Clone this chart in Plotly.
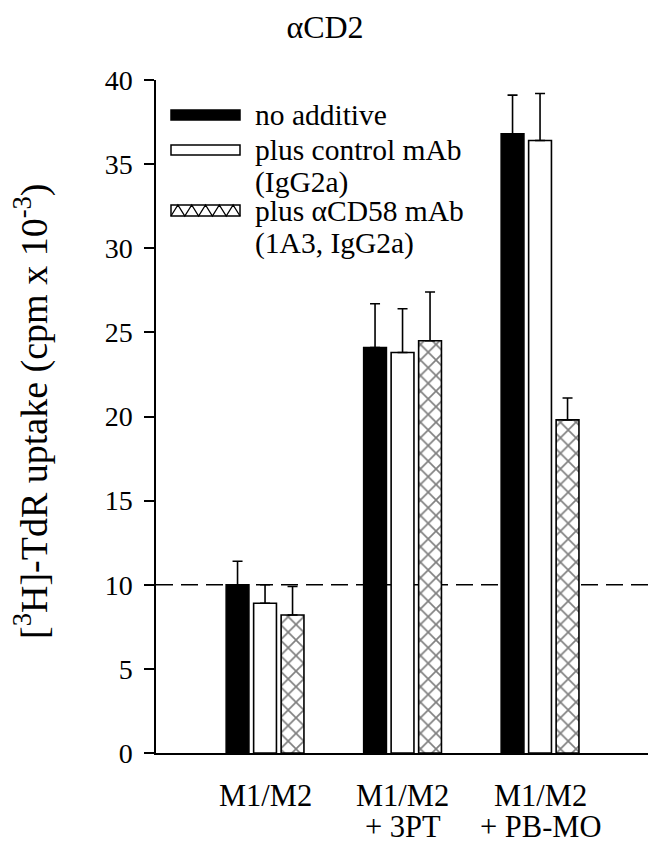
import plotly.graph_objects as go

# ---------------- data ----------------
categories = ["M1/M2", "M1/M2<br>+ 3PT", "M1/M2<br>+ PB-MO"]
series_names = ["no additive", "plus control mAb<br>(IgG2a)", "plus \u03b1CD58 mAb<br>(1A3, IgG2a)"]

no_additive = [10.0, 24.1, 36.8]
no_additive_err = [1.4, 2.6, 2.3]

control_mab = [8.9, 23.8, 36.4]
control_mab_err = [1.1, 2.6, 2.8]

cd58_mab = [8.2, 24.5, 19.8]
cd58_mab_err = [1.7, 2.9, 1.3]

baseline_value = 10
y_ticks = [0, 5, 10, 15, 20, 25, 30, 35, 40]

FONT = "Liberation Serif, Times New Roman, serif"

# The page body has an 8px default margin: figure is offset by 8px.
OFF = 8
FIG_W, FIG_H = 656 - OFF, 853 - 2 * OFF

# plot area in page pixels
L, R, T, B = 156, 651, 80, 753
W, H = R - L, B - T


def px(x):
    return (x - L) / W


def py(y):
    return (B - y) / H


xpos = list(range(len(categories)))

fig = go.Figure()
err_style = dict(type="data", symmetric=False, color="black", thickness=1.6, width=5)

fig.add_trace(go.Bar(
    x=xpos, y=no_additive, name=series_names[0],
    marker=dict(color="black", line=dict(color="black", width=1.5)),
    error_y=dict(array=no_additive_err, arrayminus=[0] * len(xpos), **err_style),
))
fig.add_trace(go.Bar(
    x=xpos, y=control_mab, name=series_names[1],
    marker=dict(color="white", line=dict(color="black", width=1.6)),
    error_y=dict(array=control_mab_err, arrayminus=[0] * len(xpos), **err_style),
))
fig.add_trace(go.Bar(
    x=xpos, y=cd58_mab, name=series_names[2],
    marker=dict(color="white", line=dict(color="black", width=1.6),
                pattern=dict(shape="x", fgcolor="black", bgcolor="white",
                             size=11, solidity=0.28, fillmode="overlay")),
    error_y=dict(array=cd58_mab_err, arrayminus=[0] * len(xpos), **err_style),
))

shapes = []
# dashed reference line at 10
shapes.append(dict(type="line", xref="paper", x0=0, x1=1, yref="y",
                   y0=baseline_value, y1=baseline_value, layer="below",
                   line=dict(color="black", width=1.5, dash="17px,8px")))

# manual legend
sym_x0, sym_x1 = 171, 240
shapes.append(dict(type="rect", xref="paper", yref="paper",
                   x0=px(sym_x0), x1=px(sym_x1), y0=py(120), y1=py(110),
                   fillcolor="black", line=dict(color="black", width=1.5)))
shapes.append(dict(type="rect", xref="paper", yref="paper",
                   x0=px(sym_x0), x1=px(sym_x1), y0=py(155), y1=py(145),
                   fillcolor="white", line=dict(color="black", width=1.5)))
ht, hb = 205, 216
shapes.append(dict(type="rect", xref="paper", yref="paper",
                   x0=px(sym_x0), x1=px(sym_x1), y0=py(hb), y1=py(ht),
                   fillcolor="white", line=dict(color="black", width=1.5)))
n_tri = 5
step = (sym_x1 - sym_x0) / n_tri
pts = []
for i in range(n_tri + 1):
    xa = sym_x0 + i * step
    pts.append((xa, hb))
    if i < n_tri:
        pts.append((xa + step / 2, ht))
path = "M " + " L ".join(f"{px(a):.5f},{py(b):.5f}" for a, b in pts)
shapes.append(dict(type="path", xref="paper", yref="paper", path=path,
                   line=dict(color="black", width=1.3)))

legend_lines_y = [[115], [150, 182], [211, 243]]
annotations = []
for name, ys in zip(series_names, legend_lines_y):
    for line_txt, yy in zip(name.split("<br>"), ys):
        annotations.append(dict(text=line_txt, xref="paper", yref="paper",
                                x=px(253), y=py(yy), xanchor="left", yanchor="middle",
                                showarrow=False, font=dict(family=FONT, size=29.5, color="black")))

# category labels (two lines with tight spacing as in the original)
cat_line_y = [796, 827]
for xi, cat in zip(xpos, categories):
    for line_txt, yy in zip(cat.split("<br>"), cat_line_y):
        annotations.append(dict(text=line_txt, xref="x", yref="paper",
                                x=xi, y=py(yy), xanchor="center", yanchor="middle",
                                showarrow=False, font=dict(family=FONT, size=30.5, color="black")))

# y-axis title
annotations.append(dict(text="[<sup>3</sup>H]-TdR uptake (cpm x 10<sup>-3</sup>)",
                        xref="paper", yref="paper", x=px(31), y=py(412),
                        xanchor="center", yanchor="middle", textangle=-90,
                        showarrow=False, font=dict(family=FONT, size=38, color="black")))

fig.update_layout(
    width=FIG_W, height=FIG_H,
    margin=dict(l=L - OFF, r=(656 - OFF) - (R - OFF), t=T - OFF, b=FIG_H - (B - OFF),
                autoexpand=False),
    paper_bgcolor="white", plot_bgcolor="white",
    showlegend=False,
    barmode="group", bargap=0.4, bargroupgap=0.17,
    title=dict(text="\u03b1CD2", x=(325 - OFF) / FIG_W, xanchor="center", xref="container",
               y=1 - (27 - OFF) / FIG_H, yanchor="middle", yref="container",
               font=dict(family=FONT, size=32, color="black")),
    font=dict(family=FONT, color="black"),
    shapes=shapes, annotations=annotations,
)

fig.update_xaxes(range=[-0.793, 2.807], tickvals=xpos, showticklabels=False,
                 showline=True, linecolor="black", linewidth=1.5,
                 ticks="", showgrid=False, zeroline=False)
fig.update_yaxes(range=[0, 40], tickvals=y_ticks,
                 showline=True, linecolor="black", linewidth=1.5,
                 ticks="outside", ticklen=10, tickwidth=1.5, tickcolor="black",
                 showgrid=False, zeroline=False,
                 tickfont=dict(family=FONT, size=28, color="black"),
                 ticklabelstandoff=6)

fig.write_html("out.html")
